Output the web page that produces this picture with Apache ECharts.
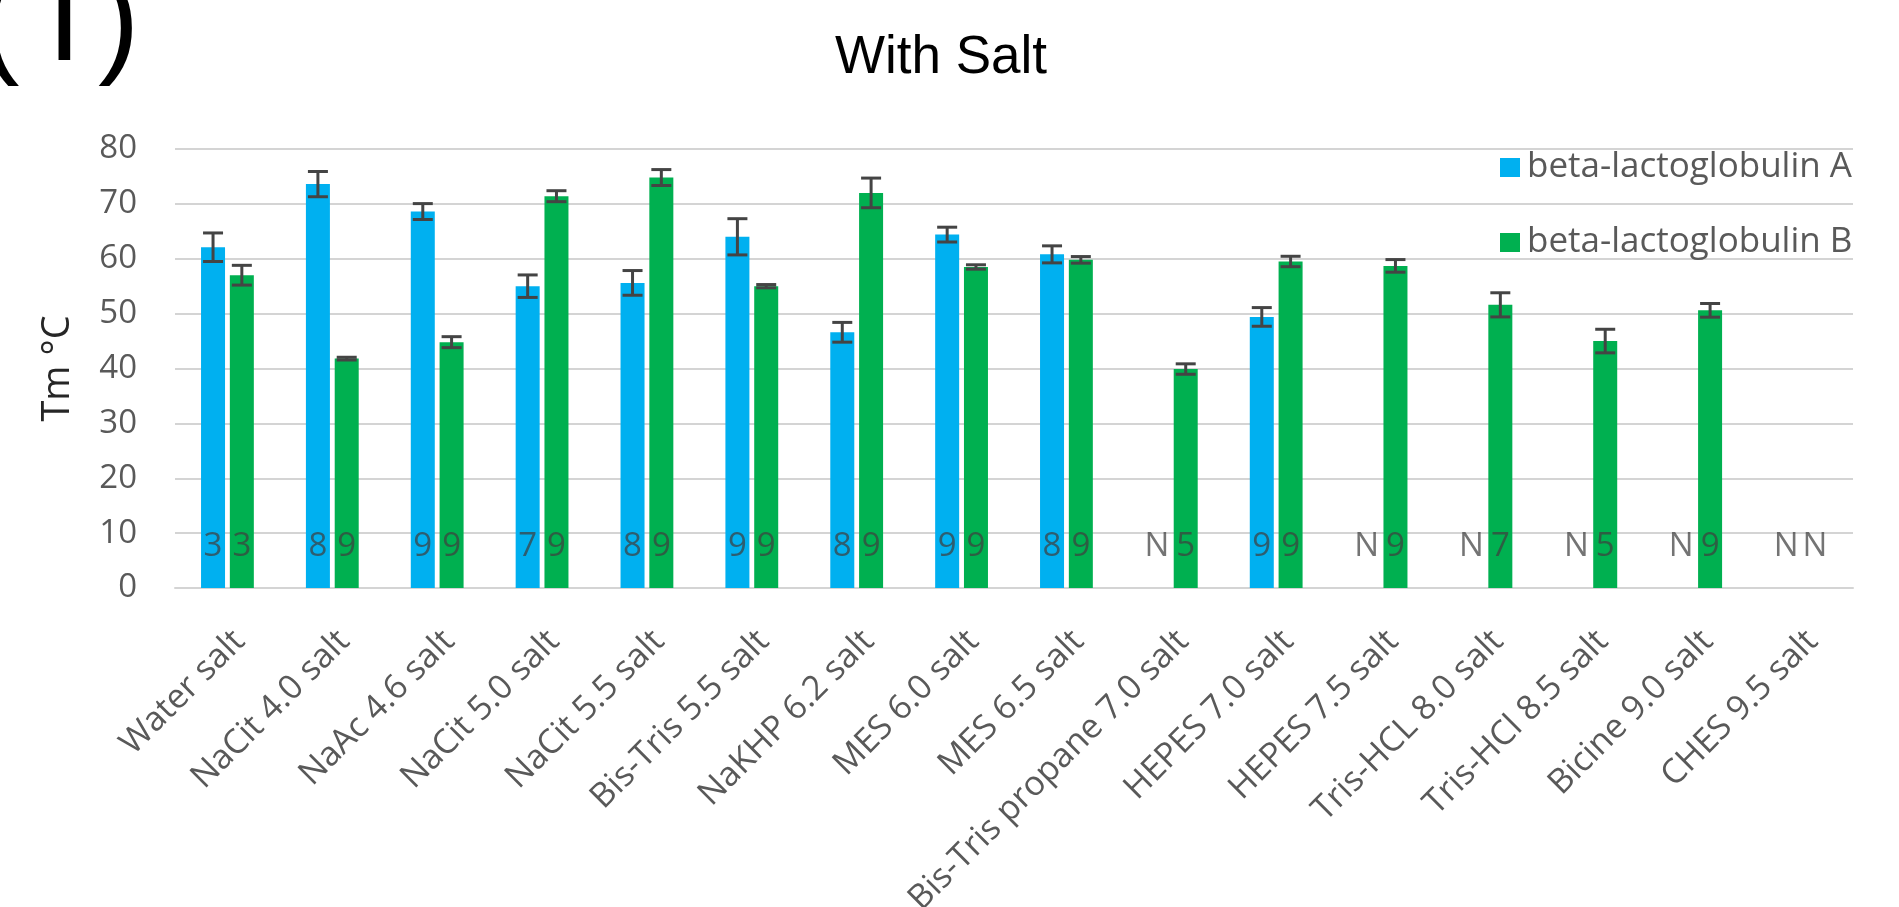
<!DOCTYPE html>
<html>
<head>
<meta charset="utf-8">
<script src="https://cdn.jsdelivr.net/npm/echarts@6/dist/echarts.min.js"></script>
<style>
  html, body { margin: 0; padding: 0; background: #ffffff; }
  #chart { width: 1899px; height: 907px; }
</style>
</head>
<body>
<div id="chart"></div>
<script>
// Buffer conditions (x axis)
const categories = [
  'Water salt', 'NaCit 4.0 salt', 'NaAc 4.6 salt', 'NaCit 5.0 salt', 'NaCit 5.5 salt',
  'Bis-Tris 5.5 salt', 'NaKHP 6.2 salt', 'MES 6.0 salt', 'MES 6.5 salt',
  'Bis-Tris propane 7.0 salt', 'HEPES 7.0 salt', 'HEPES 7.5 salt', 'Tris-HCL 8.0 salt',
  'Tris-HCl 8.5 salt', 'Bicine 9.0 salt', 'CHES 9.5 salt'
];

// Melting temperature (°C) and its error, beta-lactoglobulin A
const tmA  = [62.1, 73.6, 68.6, 55.0, 55.6, 64.0, 46.6, 64.4, 60.8, null, 49.4, null, null, null, null, null];
const errA = [2.6, 2.3, 1.45, 2.05, 2.25, 3.3, 1.8, 1.35, 1.55, null, 1.7, null, null, null, null, null];

// Melting temperature (°C) and its error, beta-lactoglobulin B
const tmB  = [57.0, 41.8, 44.8, 71.4, 74.8, 55.0, 72.0, 58.5, 59.8, 39.9, 59.5, 58.7, 51.6, 45.0, 50.6, null];
const errB = [1.8, 0.25, 1.0, 1.0, 1.45, 0.3, 2.7, 0.4, 0.6, 0.95, 0.95, 1.15, 2.2, 2.15, 1.25, null];

// Replicate counts printed at the foot of each bar ("N" = no transition)
const countA = ['3', '8', '9', '7', '8', '9', '8', '9', '8', 'N', '9', 'N', 'N', 'N', 'N', 'N'];
const countB = ['3', '9', '9', '9', '9', '9', '9', '9', '9', '5', '9', '9', '7', '5', '9', 'N'];

// Value axis ticks
const yMin = 0, yMax = 80, yStep = 10;

const seriesNames = ['beta-lactoglobulin A', 'beta-lactoglobulin B'];
const colors = ['#00B0F0', '#00B050'];

const BAR_W = 24;
const BAR_GAP = 0.2;                         // fraction of bar width
const SHIFT = (BAR_W + BAR_W * BAR_GAP) / 2; // centre offset of each bar in a group
const FONT = '"Open Sans", "Noto Sans", sans-serif';

function errorData(vals, errs) {
  const out = [];
  vals.forEach((v, i) => { if (v != null) out.push([i, v, errs[i]]); });
  return out;
}

function errorRenderer(sign) {
  return function (params, api) {
    const i = api.value(0), v = api.value(1), e = api.value(2);
    const hi = api.coord([i, v + e]);
    const lo = api.coord([i, v - e]);
    const x = hi[0] + sign * SHIFT;
    const cap = 10;
    const st = { stroke: '#444444', lineWidth: 3 };
    return {
      type: 'group',
      children: [
        { type: 'line', shape: { x1: x, y1: hi[1], x2: x, y2: lo[1] }, style: st },
        { type: 'line', shape: { x1: x - cap, y1: hi[1], x2: x + cap, y2: hi[1] }, style: st },
        { type: 'line', shape: { x1: x - cap, y1: lo[1], x2: x + cap, y2: lo[1] }, style: st }
      ]
    };
  };
}

function countRenderer(labels, sign) {
  return function (params, api) {
    const i = api.value(0);
    const p = api.coord([i, 0]);
    return {
      type: 'text',
      x: p[0] + sign * SHIFT,
      y: p[1] - 41,
      style: {
        text: labels[i],
        fill: 'rgba(62,62,62,0.72)',
        font: '33px ' + FONT,
        align: 'center',
        verticalAlign: 'middle'
      }
    };
  };
}

const idx = categories.map((c, i) => [i, 0]);

const chart = echarts.init(document.getElementById('chart'), null, { renderer: 'canvas' });

chart.setOption({
  animation: false,
  backgroundColor: '#ffffff',
  grid: {
    left: 175, right: 46, top: 149, bottom: 319,
    containLabel: false,
    outerBoundsMode: 'none'
  },
  graphic: [
    { type: 'text', x: -22, y: 26, style: { text: '(', font: '125px "Liberation Sans"', fill: '#000', verticalAlign: 'middle' } },
    { type: 'text', x: 47, y: 26, style: { text: 'I', font: '125px "Liberation Sans"', fill: '#000', verticalAlign: 'middle' } },
    { type: 'text', x: 98, y: 26, style: { text: ')', font: '125px "Liberation Sans"', fill: '#000', verticalAlign: 'middle' } },
    { type: 'text', x: 835, y: 58, style: { text: 'With Salt', font: '53px "Liberation Sans"', fill: '#000', verticalAlign: 'middle' } }
  ],
  legend: {
    orient: 'vertical',
    left: 1495,
    top: 145,
    itemWidth: 20,
    itemHeight: 19,
    itemGap: 40,
    icon: 'rect',
    data: seriesNames,
    textStyle: { fontSize: 35, color: '#595959', fontFamily: FONT, padding: [0, 0, 0, 2] }
  },
  xAxis: {
    type: 'category',
    data: categories,
    axisLine: { show: true, lineStyle: { color: '#d4d4d4', width: 2 } },
    axisTick: { show: false },
    axisLabel: {
      interval: 0,
      rotate: 45,
      margin: 36,
      fontSize: 34,
      color: '#595959',
      fontFamily: FONT,
      verticalAlign: 'top'
    }
  },
  yAxis: {
    type: 'value',
    min: yMin,
    max: yMax,
    interval: yStep,
    name: 'Tm °C',
    nameLocation: 'middle',
    nameGap: 98,
    nameTextStyle: { fontSize: 38, color: '#262626', fontFamily: FONT },
    axisLine: { show: false },
    axisTick: { show: false },
    axisLabel: { fontSize: 33, color: '#595959', margin: 38, fontFamily: FONT },
    splitLine: { lineStyle: { color: '#d4d4d4', width: 2 } }
  },
  series: [
    {
      name: seriesNames[0], type: 'bar', data: tmA,
      barWidth: BAR_W, barGap: (BAR_GAP * 100) + '%',
      itemStyle: { color: colors[0] }
    },
    {
      name: seriesNames[1], type: 'bar', data: tmB,
      barWidth: BAR_W, barGap: (BAR_GAP * 100) + '%',
      itemStyle: { color: colors[1] }
    },
    {
      type: 'custom', renderItem: errorRenderer(-1), data: errorData(tmA, errA),
      encode: { x: 0, y: 1 }, z: 5, silent: true
    },
    {
      type: 'custom', renderItem: errorRenderer(1), data: errorData(tmB, errB),
      encode: { x: 0, y: 1 }, z: 5, silent: true
    },
    {
      type: 'custom', renderItem: countRenderer(countA, -1), data: idx,
      encode: { x: 0, y: 1 }, z: 6, silent: true
    },
    {
      type: 'custom', renderItem: countRenderer(countB, 1), data: idx,
      encode: { x: 0, y: 1 }, z: 6, silent: true
    }
  ]
});
</script>
</body>
</html>
